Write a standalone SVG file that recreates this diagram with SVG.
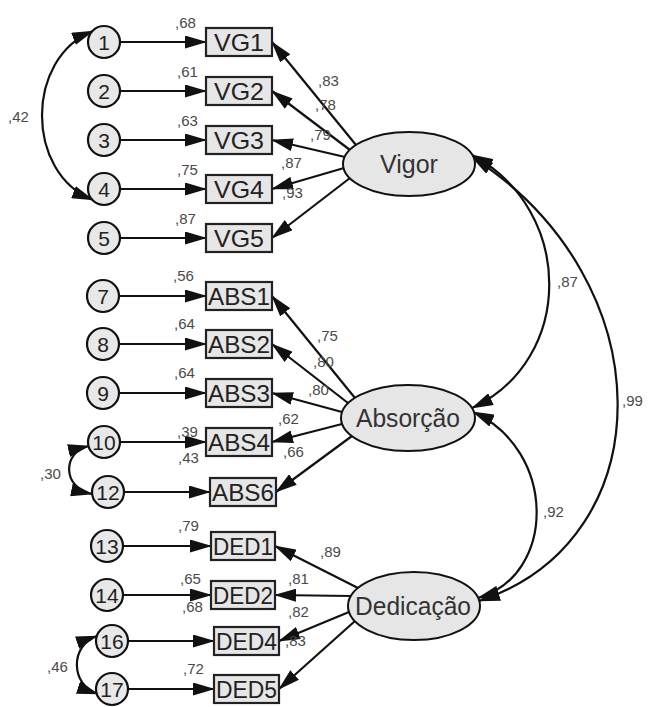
<svg xmlns="http://www.w3.org/2000/svg" width="649" height="707" viewBox="0 0 649 707">
<defs>
<marker id="ah" markerUnits="userSpaceOnUse" markerWidth="22" markerHeight="13" viewBox="0 0 22 13" refX="21" refY="6.5" orient="auto-start-reverse">
<path d="M0,0 L22,6.5 L0,13 z" fill="#111"/>
</marker>
<style>
.box{fill:#e6e6e6;stroke:#222;stroke-width:2.2}
.err{fill:#e8e8e8;stroke:#111;stroke-width:2.2}
.lat{fill:#e6e6e6;stroke:#111;stroke-width:2}
.bt{font-family:"Liberation Sans",Arial,sans-serif;font-size:24px;fill:#222;text-anchor:middle}
.ct{font-family:"Liberation Sans",Arial,sans-serif;font-size:21px;fill:#222;text-anchor:middle}
.lt{font-family:"Liberation Sans",Arial,sans-serif;font-size:25px;fill:#333;text-anchor:middle}
.num{font-family:"Liberation Sans",Arial,sans-serif;font-size:15px;fill:#4a4a4a}
.ln{stroke:#111;stroke-width:2.2;fill:none;marker-end:url(#ah)}
.cv{stroke:#111;stroke-width:2.2;fill:none;marker-start:url(#ah);marker-end:url(#ah)}
</style>
</defs>
<rect width="649" height="707" fill="#fff"/>

<g id="connectors">
<line class="ln" x1="120" y1="42" x2="206" y2="42"/>
<line class="ln" x1="120" y1="91" x2="206" y2="91"/>
<line class="ln" x1="120" y1="140" x2="206" y2="140"/>
<line class="ln" x1="120" y1="189" x2="206" y2="189"/>
<line class="ln" x1="120" y1="238" x2="206" y2="238"/>
<line class="ln" x1="119" y1="296" x2="206" y2="296"/>
<line class="ln" x1="119" y1="344" x2="206" y2="344"/>
<line class="ln" x1="119" y1="393" x2="206" y2="393"/>
<line class="ln" x1="120" y1="442" x2="206" y2="442"/>
<line class="ln" x1="124" y1="492" x2="210" y2="492"/>
<line class="ln" x1="123" y1="546" x2="211" y2="546"/>
<line class="ln" x1="123" y1="595" x2="211" y2="595"/>
<line class="ln" x1="128" y1="641" x2="214" y2="641"/>
<line class="ln" x1="128" y1="689" x2="214" y2="689"/>
<line class="ln" x1="356" y1="145" x2="272" y2="42"/>
<line class="ln" x1="350" y1="150" x2="272" y2="91"/>
<line class="ln" x1="345" y1="157" x2="272" y2="140"/>
<line class="ln" x1="344" y1="168" x2="272" y2="189"/>
<line class="ln" x1="350" y1="178" x2="272" y2="238"/>
<line class="ln" x1="355" y1="398" x2="272" y2="296"/>
<line class="ln" x1="348" y1="403" x2="272" y2="344"/>
<line class="ln" x1="342" y1="412" x2="272" y2="393"/>
<line class="ln" x1="342" y1="424" x2="272" y2="442"/>
<line class="ln" x1="352" y1="436" x2="276" y2="492"/>
<line class="ln" x1="358" y1="588" x2="275" y2="546"/>
<line class="ln" x1="351" y1="596" x2="275" y2="595"/>
<line class="ln" x1="349" y1="612" x2="279" y2="641"/>
<line class="ln" x1="355" y1="621" x2="279" y2="689"/>
<path class="cv" d="M93,31 C25,58 25,173 93,200"/>
<path class="cv" d="M89,446 C62,452 62,488 92,494"/>
<path class="cv" d="M97,636 C70,645 70,685 98,694"/>
<path class="cv" d="M472,155 C575,210 575,360 472,408"/>
<path class="cv" d="M472,157 C665,280 665,540 479,601"/>
<path class="cv" d="M473,412 C557,450 557,575 478,598"/>
</g>

<g id="labels">
<text class="num" x="175" y="28">,68</text>
<text class="num" x="177" y="77">,61</text>
<text class="num" x="177" y="126">,63</text>
<text class="num" x="177" y="175">,75</text>
<text class="num" x="175" y="224">,87</text>
<text class="num" x="173" y="281">,56</text>
<text class="num" x="174" y="329">,64</text>
<text class="num" x="174" y="378">,64</text>
<text class="num" x="177" y="437">,39</text>
<text class="num" x="178" y="463">,43</text>
<text class="num" x="178" y="531">,79</text>
<text class="num" x="180" y="584">,65</text>
<text class="num" x="182" y="612">,68</text>
<text class="num" x="183" y="674">,72</text>
<text class="num" x="318" y="86">,83</text>
<text class="num" x="315" y="110">,78</text>
<text class="num" x="310" y="140">,79</text>
<text class="num" x="281" y="168">,87</text>
<text class="num" x="282" y="198">,93</text>
<text class="num" x="317" y="341">,75</text>
<text class="num" x="313" y="367">,80</text>
<text class="num" x="308" y="395">,80</text>
<text class="num" x="278" y="424">,62</text>
<text class="num" x="283" y="457">,66</text>
<text class="num" x="320" y="557">,89</text>
<text class="num" x="288" y="584">,81</text>
<text class="num" x="288" y="617">,82</text>
<text class="num" x="285" y="646">,83</text>
<text class="num" x="8" y="122">,42</text>
<text class="num" x="40" y="479">,30</text>
<text class="num" x="47" y="672">,46</text>
<text class="num" x="557" y="287">,87</text>
<text class="num" x="622" y="406">,99</text>
<text class="num" x="543" y="517">,92</text>
</g>

<g id="e1"><circle class="err" cx="104" cy="42" r="16"/><text class="ct" x="104" y="49.5">1</text></g>
<g id="e2"><circle class="err" cx="104" cy="91" r="16"/><text class="ct" x="104" y="98.5">2</text></g>
<g id="e3"><circle class="err" cx="104" cy="140" r="16"/><text class="ct" x="104" y="147.5">3</text></g>
<g id="e4"><circle class="err" cx="104" cy="189" r="16"/><text class="ct" x="104" y="196.5">4</text></g>
<g id="e5"><circle class="err" cx="104" cy="238" r="16"/><text class="ct" x="104" y="245.5">5</text></g>
<g id="e7"><circle class="err" cx="103" cy="296" r="16"/><text class="ct" x="103" y="303.5">7</text></g>
<g id="e8"><circle class="err" cx="103" cy="344" r="16"/><text class="ct" x="103" y="351.5">8</text></g>
<g id="e9"><circle class="err" cx="103" cy="393" r="16"/><text class="ct" x="103" y="400.5">9</text></g>
<g id="e10"><circle class="err" cx="104" cy="442" r="16"/><text class="ct" x="104" y="449.5">10</text></g>
<g id="e12"><circle class="err" cx="108" cy="492" r="16"/><text class="ct" x="108" y="499.5">12</text></g>
<g id="e13"><circle class="err" cx="107" cy="546" r="16"/><text class="ct" x="107" y="553.5">13</text></g>
<g id="e14"><circle class="err" cx="107" cy="595" r="16"/><text class="ct" x="107" y="602.5">14</text></g>
<g id="e16"><circle class="err" cx="112" cy="641" r="16"/><text class="ct" x="112" y="648.5">16</text></g>
<g id="e17"><circle class="err" cx="112" cy="689" r="16"/><text class="ct" x="112" y="696.5">17</text></g>

<g id="VG1"><rect class="box" x="206" y="28" width="66" height="28"/><text class="bt" x="239" y="50.5" textLength="50" lengthAdjust="spacingAndGlyphs">VG1</text></g>
<g id="VG2"><rect class="box" x="206" y="77" width="66" height="28"/><text class="bt" x="239" y="99.5" textLength="50" lengthAdjust="spacingAndGlyphs">VG2</text></g>
<g id="VG3"><rect class="box" x="206" y="126" width="66" height="28"/><text class="bt" x="239" y="148.5" textLength="50" lengthAdjust="spacingAndGlyphs">VG3</text></g>
<g id="VG4"><rect class="box" x="206" y="175" width="66" height="28"/><text class="bt" x="239" y="197.5" textLength="50" lengthAdjust="spacingAndGlyphs">VG4</text></g>
<g id="VG5"><rect class="box" x="206" y="224" width="66" height="28"/><text class="bt" x="239" y="246.5" textLength="50" lengthAdjust="spacingAndGlyphs">VG5</text></g>
<g id="ABS1"><rect class="box" x="206" y="282" width="66" height="28"/><text class="bt" x="239" y="304.5" textLength="62" lengthAdjust="spacingAndGlyphs">ABS1</text></g>
<g id="ABS2"><rect class="box" x="206" y="330" width="66" height="28"/><text class="bt" x="239" y="352.5" textLength="62" lengthAdjust="spacingAndGlyphs">ABS2</text></g>
<g id="ABS3"><rect class="box" x="206" y="379" width="66" height="28"/><text class="bt" x="239" y="401.5" textLength="62" lengthAdjust="spacingAndGlyphs">ABS3</text></g>
<g id="ABS4"><rect class="box" x="206" y="428" width="66" height="28"/><text class="bt" x="239" y="450.5" textLength="62" lengthAdjust="spacingAndGlyphs">ABS4</text></g>
<g id="ABS6"><rect class="box" x="210" y="478" width="66" height="28"/><text class="bt" x="243" y="500.5" textLength="62" lengthAdjust="spacingAndGlyphs">ABS6</text></g>
<g id="DED1"><rect class="box" x="211" y="532" width="64" height="28"/><text class="bt" x="243" y="554.5" textLength="60" lengthAdjust="spacingAndGlyphs">DED1</text></g>
<g id="DED2"><rect class="box" x="211" y="581" width="64" height="28"/><text class="bt" x="243" y="603.5" textLength="60" lengthAdjust="spacingAndGlyphs">DED2</text></g>
<g id="DED4"><rect class="box" x="214" y="627" width="65" height="28"/><text class="bt" x="246.5" y="649.5" textLength="61" lengthAdjust="spacingAndGlyphs">DED4</text></g>
<g id="DED5"><rect class="box" x="214" y="675" width="65" height="28"/><text class="bt" x="246.5" y="697.5" textLength="61" lengthAdjust="spacingAndGlyphs">DED5</text></g>

<g id="Vigor"><ellipse class="lat" cx="409" cy="164" rx="66" ry="32"/><text class="lt" x="409" y="173">Vigor</text></g>
<g id="Absorcao"><ellipse class="lat" cx="408" cy="418" rx="67" ry="33"/><text class="lt" x="408" y="427" textLength="104" lengthAdjust="spacingAndGlyphs">Absorção</text></g>
<g id="Dedicacao"><ellipse class="lat" cx="414" cy="606" rx="66" ry="34"/><text class="lt" x="413" y="615" textLength="116" lengthAdjust="spacingAndGlyphs">Dedicação</text></g>
</svg>
